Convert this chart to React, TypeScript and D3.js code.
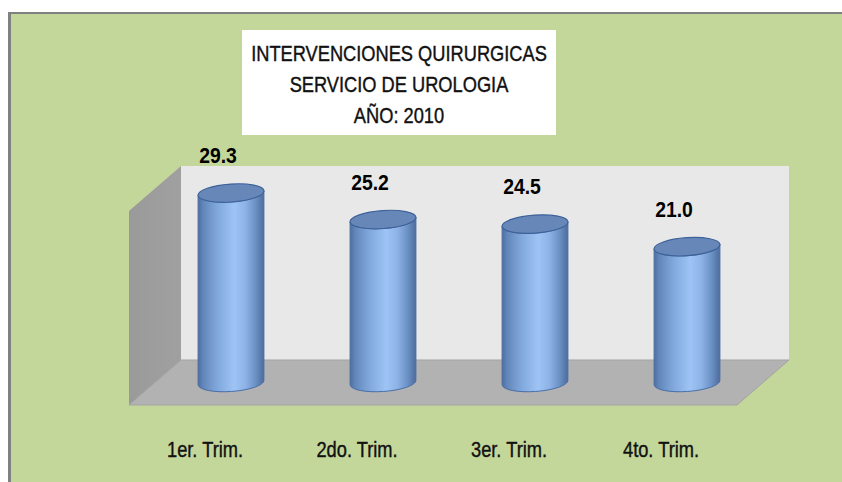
import React from "react";
import * as d3 from "d3";

const categories: string[] = ["1er. Trim.", "2do. Trim.", "3er. Trim.", "4to. Trim."];
const values: number[] = [29.3, 25.2, 24.5, 21.0];
const titleLines: string[] = ["INTERVENCIONES QUIRURGICAS", "SERVICIO DE UROLOGIA", "AÑO: 2010"];
const axisMax = 30;

const W = 842;
const H = 482;

// 3D box geometry
const FL = { x: 129, y: 405 }; // front-left corner of floor
const FLOOR_W = 608;
const DEPTH = { dx: 52, dy: -45 };
const WALL_H = 194;

const RX = 33;
const RY = 9;
const ROT = -4;
const SQUEEZE = 0.83;

export default function App() {
  const x = d3.scaleBand<string>().domain(categories).range([0, FLOOR_W]).paddingInner(0).paddingOuter(0);
  const h = d3.scaleLinear().domain([0, axisMax]).range([0, WALL_H]);

  const backLeft = FL.x + DEPTH.dx;
  const backBottom = FL.y + DEPTH.dy;
  const backTop = backBottom - WALL_H;

  const floorPath = d3.path();
  floorPath.moveTo(FL.x, FL.y);
  floorPath.lineTo(FL.x + FLOOR_W, FL.y);
  floorPath.lineTo(FL.x + FLOOR_W + DEPTH.dx, FL.y + DEPTH.dy);
  floorPath.lineTo(backLeft, backBottom);
  floorPath.closePath();

  const leftWall = d3.path();
  leftWall.moveTo(FL.x, FL.y);
  leftWall.lineTo(backLeft, backBottom);
  leftWall.lineTo(backLeft, backTop);
  leftWall.lineTo(FL.x, FL.y - WALL_H);
  leftWall.closePath();

  const th = (ROT * Math.PI) / 180;
  const ex = RX * Math.cos(th);
  const ey = RX * Math.sin(th);

  const font = "'Liberation Sans', Arial, sans-serif";

  return (
    <svg width={W} height={H} style={{ position: "absolute", left: 0, top: 0 }} xmlns="http://www.w3.org/2000/svg">
      <defs>
        <linearGradient id="cyl" x1="0" y1="0" x2="1" y2="0">
          <stop offset="0" stopColor="#4f6f9f" />
          <stop offset="0.08" stopColor="#6287bb" />
          <stop offset="0.3" stopColor="#82a9dd" />
          <stop offset="0.55" stopColor="#9dc4f4" />
          <stop offset="0.72" stopColor="#8db3e6" />
          <stop offset="0.88" stopColor="#6a8fc2" />
          <stop offset="1" stopColor="#4c6c9c" />
        </linearGradient>
        <linearGradient id="lwall" x1="0" y1="0" x2="1" y2="0">
          <stop offset="0" stopColor="#9a9a9a" />
          <stop offset="1" stopColor="#a0a0a0" />
        </linearGradient>
      </defs>
      <rect x={0} y={0} width={W} height={H} fill="#ffffff" />
      <rect x={11} y={14} width={W} height={H} fill="#c4d79b" />
      <rect x={8} y={12} width={3} height={H} fill="#808080" />
      <rect x={8} y={12} width={W} height={2} fill="#808080" />

      {/* title */}
      <rect x={242} y={30} width={314} height={105} fill="#ffffff" />
      <g fontFamily={font} fontSize={22} fill="#111" stroke="#111" strokeWidth={0.4} textAnchor="middle">
        {titleLines.map((t, i) => (
          <text key={t} transform={`translate(399,${61 + i * 31}) scale(${SQUEEZE},1)`}>{t}</text>
        ))}
      </g>

      {/* walls & floor */}
      <rect x={backLeft} y={backTop} width={FLOOR_W} height={WALL_H} fill="#e8e8e8" />
      <path d={leftWall.toString()} fill="url(#lwall)" />
      <path d={floorPath.toString()} fill="#b2b2b2" stroke="#a3a3a3" strokeWidth={1} />

      {/* cylinders */}
      {values.map((v, i) => {
        const cx = FL.x + (x(categories[i]) as number) + x.bandwidth() / 2 + DEPTH.dx / 2;
        const base = FL.y + DEPTH.dy / 2;
        const top = base - h(v);
        const bodyD =
          `M${cx - ex},${top - ey} L${cx - ex},${base - ey} ` +
          `A${RX},${RY} ${ROT} 0 0 ${cx + ex},${base + ey} ` +
          `L${cx + ex},${top + ey} ` +
          `A${RX},${RY} ${ROT} 0 1 ${cx - ex},${top - ey} Z`;
        return (
          <g key={categories[i]}>
            <path d={bodyD} fill="url(#cyl)" stroke="#4a6fa5" strokeWidth={1} />
            <ellipse cx={cx} cy={top} rx={RX} ry={RY} transform={`rotate(${ROT} ${cx} ${top})`} fill="#6787b9" stroke="#3d6299" strokeWidth={1.2} />
          </g>
        );
      })}

      {/* value labels */}
      <g fontFamily={font} fontWeight="bold" fontSize={22} fill="#000" textAnchor="middle">
        {values.map((v, i) => {
          const cx = FL.x + (x(categories[i]) as number) + x.bandwidth() / 2 + DEPTH.dx / 2;
          const top = FL.y + DEPTH.dy / 2 - h(v);
          return (
            <text key={categories[i]} transform={`translate(${cx - 13},${top - 30}) scale(0.88,1)`}>{d3.format(".1f")(v)}</text>
          );
        })}
      </g>

      {/* category labels */}
      <g fontFamily={font} fontSize={22} fill="#111" stroke="#111" strokeWidth={0.4} textAnchor="middle">
        {categories.map((c) => (
          <text key={c} transform={`translate(${FL.x + (x(c) as number) + x.bandwidth() / 2},457) scale(${SQUEEZE},1)`}>{c}</text>
        ))}
      </g>
    </svg>
  );
}
